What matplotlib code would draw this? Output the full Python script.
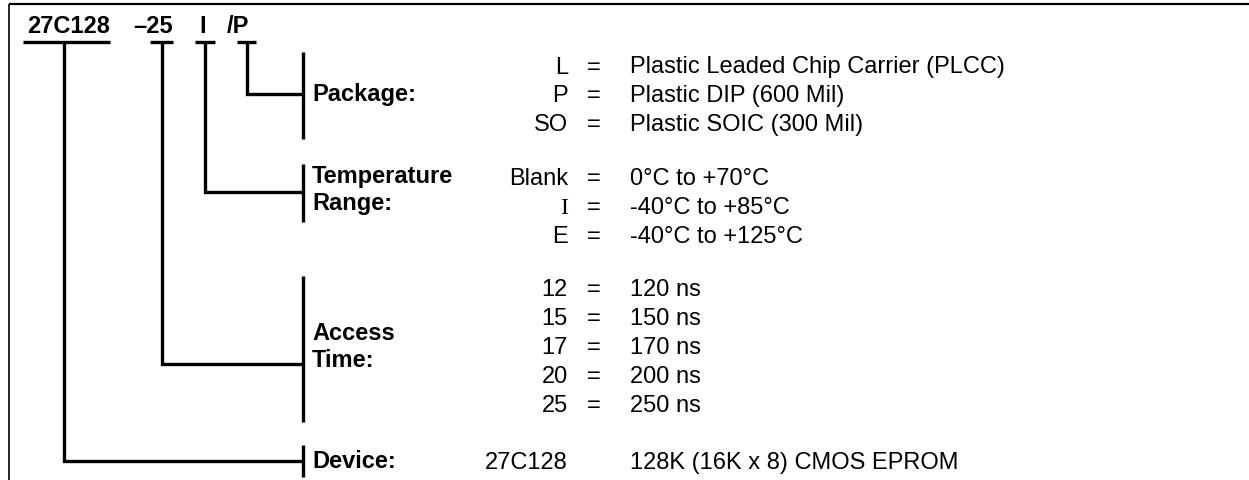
import matplotlib
matplotlib.use("Agg")
import matplotlib.pyplot as plt

# part number fields shown in the header
header_parts = ["27C128", "\u201325", "I", "/P"]

# option groups: (label, codes, descriptions)
package_label = "Package:"
package_codes = ["L", "P", "SO"]
package_desc = ["Plastic Leaded Chip Carrier (PLCC)", "Plastic DIP (600 Mil)",
                "Plastic SOIC (300 Mil)"]

temp_label = "Temperature\nRange:"
temp_codes = ["Blank", "I", "E"]
temp_desc = ["0\u00b0C to +70\u00b0C", "-40\u00b0C to +85\u00b0C", "-40\u00b0C to +125\u00b0C"]

access_label = "Access\nTime:"
access_codes = ["12", "15", "17", "20", "25"]
access_desc = ["120 ns", "150 ns", "170 ns", "200 ns", "250 ns"]

device_label = "Device:"
device_codes = ["27C128"]
device_desc = ["128K (16K x 8) CMOS EPROM"]

W, H = 1249, 481
FS = 17
FONT = "Liberation Sans"
LW = 2.4

fig = plt.figure(figsize=(W / 100, H / 100), dpi=100)
ax = fig.add_axes([0, 0, 1, 1])
ax.set_xlim(0, W)
ax.set_ylim(H, 0)
ax.axis("off")

# frame: top and left edges only
ax.plot([9, W], [4.5, 4.5], color="black", lw=1.6, solid_capstyle="butt")
ax.plot([9, 9], [4.5, H], color="black", lw=1.2, solid_capstyle="butt")

# header text and underlines
header_x = [27, 133, 199, 227]
under = [(23, 110), (150, 173), (195, 215), (237, 256)]
drop_x = [64, 162, 205, 247]
for txt, x in zip(header_parts, header_x):
    ax.text(x, 33, txt, fontsize=FS, fontweight="bold", family=FONT,
            ha="left", va="baseline")
for x0, x1 in under:
    ax.plot([x0, x1], [43, 43], color="black", lw=LW, solid_capstyle="butt")

BAR_X = 303
CODE_X = 568
EQ_X = 594
DESC_X = 630
LABEL_X = 312
ROW = 28.8

groups = [
    # label, codes, desc, first row y, bar span, connector y, label y, drop index
    (package_label, package_codes, package_desc, 65, (53, 140), 95, 95, 3),
    (temp_label, temp_codes, temp_desc, 177, (165, 223), 193, 190, 2),
    (access_label, access_codes, access_desc, 288, (277, 423), 365, 347, 1),
    (device_label, device_codes, device_desc, 461, (446, 478), 462, 462, 0),
]

for label, codes, descs, y0, (b0, b1), cy, ly, idx in groups:
    ax.plot([BAR_X, BAR_X], [b0, b1], color="black", lw=LW, solid_capstyle="butt")
    dx = drop_x[idx]
    ax.plot([dx, dx, BAR_X], [43, cy, cy], color="black", lw=LW,
            solid_joinstyle="miter", solid_capstyle="butt")
    ax.text(LABEL_X, ly, label, fontsize=FS, fontweight="bold", family=FONT,
            ha="left", va="center", linespacing=1.2)
    for i, (c, d) in enumerate(zip(codes, descs)):
        y = y0 + i * ROW + 8.5
        fam = "Liberation Serif" if (label == temp_label and c == "I") else FONT
        ax.text(CODE_X, y, c, fontsize=FS, family=fam, ha="right", va="baseline")
        if label != device_label:
            ax.text(EQ_X, y, "=", fontsize=FS, family=FONT, ha="center", va="baseline")
        ax.text(DESC_X, y, d, fontsize=FS, family=FONT, ha="left", va="baseline")

fig.savefig("out.png", dpi=100)
